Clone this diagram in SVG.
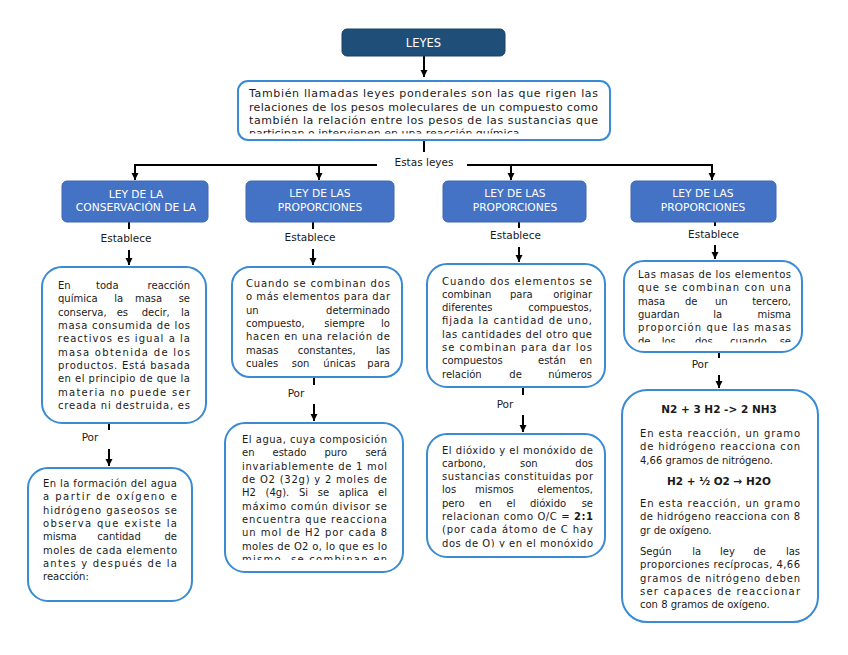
<svg xmlns="http://www.w3.org/2000/svg" width="848" height="655" viewBox="0 0 848 655">
<style>
.t{font-family:"DejaVu Sans",Verdana,sans-serif;font-size:10px;fill:#1a1a1a}
.d{font-size:11px}
.e{text-anchor:end}
.b{font-weight:bold}
.m{text-anchor:middle}
.w{font-family:"DejaVu Sans",Verdana,sans-serif;font-size:10.7px;fill:#fff;text-anchor:middle}
.lbl{font-family:"DejaVu Sans",Verdana,sans-serif;font-size:10.5px;fill:#1a1a1a;text-anchor:middle}
.box{fill:#fff;stroke:#3a8ad4;stroke-width:2}
.blue{fill:#4472c4;stroke:#3d66b0;stroke-width:1}
.c{stroke:#000;stroke-width:2;fill:none}
</style>
<defs>
<marker id="ah" markerUnits="userSpaceOnUse" markerWidth="8" markerHeight="8" refX="7" refY="4" orient="auto"><path d="M0,0.5 L7,4 L0,7.5 z" fill="#000"/></marker>
<clipPath id="cDesc"><rect x="240" y="82" width="368" height="51.5"/></clipPath>
<clipPath id="cC"><rect x="233" y="268" width="168" height="101"/></clipPath>
<clipPath id="cD"><rect x="226" y="424" width="176" height="136"/></clipPath>
<clipPath id="cF"><rect x="428" y="435" width="176" height="112.5"/></clipPath>
<clipPath id="cG"><rect x="625" y="262" width="176" height="80.5"/></clipPath>
</defs>

<g id="connectors">
<line class="c" x1="424" y1="56" x2="424" y2="77" marker-end="url(#ah)"/>
<line class="c" x1="424" y1="140" x2="424" y2="152"/>
<path class="c" d="M377,165 H135 V180"/>
<line class="c" x1="319" y1="165" x2="319" y2="180"/>
<path class="c" d="M467,165 H712 V180"/>
<line class="c" x1="511" y1="165" x2="511" y2="180"/>
<line class="c" x1="135" y1="170" x2="135" y2="180" marker-end="url(#ah)"/>
<line class="c" x1="319" y1="170" x2="319" y2="180" marker-end="url(#ah)"/>
<line class="c" x1="511" y1="170" x2="511" y2="180" marker-end="url(#ah)"/>
<line class="c" x1="712" y1="170" x2="712" y2="180" marker-end="url(#ah)"/>
<text class="lbl" x="424" y="166">Estas leyes</text>

<line class="c" x1="129" y1="222" x2="129" y2="229"/>
<text class="lbl" x="126" y="242">Establece</text>
<line class="c" x1="129" y1="250" x2="129" y2="265" marker-end="url(#ah)"/>
<line class="c" x1="313" y1="222" x2="313" y2="229"/>
<text class="lbl" x="310" y="241">Establece</text>
<line class="c" x1="313" y1="249" x2="313" y2="265" marker-end="url(#ah)"/>
<line class="c" x1="519" y1="222" x2="519" y2="228"/>
<text class="lbl" x="515.5" y="239">Establece</text>
<line class="c" x1="519" y1="247" x2="519" y2="262" marker-end="url(#ah)"/>
<line class="c" x1="715" y1="222" x2="715" y2="226"/>
<text class="lbl" x="713.5" y="238">Establece</text>
<line class="c" x1="715" y1="245" x2="715" y2="259" marker-end="url(#ah)"/>

<line class="c" x1="109" y1="423" x2="109" y2="430"/>
<text class="lbl" x="90" y="441">Por</text>
<line class="c" x1="109" y1="449" x2="109" y2="466" marker-end="url(#ah)"/>
<line class="c" x1="314" y1="377" x2="314" y2="385"/>
<text class="lbl" x="296" y="397">Por</text>
<line class="c" x1="314" y1="404" x2="314" y2="421" marker-end="url(#ah)"/>
<line class="c" x1="523" y1="387" x2="523" y2="395"/>
<text class="lbl" x="505" y="408">Por</text>
<line class="c" x1="523" y1="415" x2="523" y2="432" marker-end="url(#ah)"/>
<line class="c" x1="719" y1="352" x2="719" y2="358"/>
<text class="lbl" x="700" y="368">Por</text>
<line class="c" x1="719" y1="375" x2="719" y2="388" marker-end="url(#ah)"/>
</g>

<g id="leyes">
<rect x="342" y="29" width="163" height="27" rx="5" fill="#1f4e79" stroke="#1a4268"/>
<text class="w" x="423.5" y="47" style="font-size:11.5px">LEYES</text>
</g>

<g id="descripcion">
<rect class="box" x="238" y="81" width="372" height="59" rx="10"/>
<g clip-path="url(#cDesc)">
<text class="t d" x="249" y="97.3" textLength="349" lengthAdjust="spacing">También llamadas leyes ponderales son las que rigen las</text>
<text class="t d" x="249" y="110.6" textLength="349" lengthAdjust="spacing">relaciones de los pesos moleculares de un compuesto como</text>
<text class="t d" x="249" y="124" textLength="349" lengthAdjust="spacing">también la relación entre los pesos de las sustancias que</text>
<text class="t d" x="249" y="137.3">participan o intervienen en una reacción química.</text>
</g>
</g>

<g id="ley1">
<rect class="blue" x="62" y="181" width="146" height="41" rx="5"/>
<text class="w" x="136" y="198">LEY DE LA</text>
<text class="w" x="136" y="211">CONSERVACIÓN DE LA</text>
</g>
<g id="ley2">
<rect class="blue" x="246" y="181" width="148" height="41" rx="5"/>
<text class="w" x="320" y="197">LEY DE LAS</text>
<text class="w" x="320" y="210.5">PROPORCIONES</text>
</g>
<g id="ley3">
<rect class="blue" x="443" y="181" width="143" height="41" rx="5"/>
<text class="w" x="515" y="197">LEY DE LAS</text>
<text class="w" x="515" y="210.5">PROPORCIONES</text>
</g>
<g id="ley4">
<rect class="blue" x="631" y="181" width="145" height="41" rx="5"/>
<text class="w" x="703" y="197">LEY DE LAS</text>
<text class="w" x="703" y="210.5">PROPORCIONES</text>
</g>

<g id="conservacion">
<rect class="box" x="42" y="267" width="164" height="156" rx="20"/>
<text class="t" x="58" y="289">En</text><text class="t" x="96" y="289">toda</text><text class="t e" x="190" y="289">reacción</text>
<text class="t" x="58" y="302.3">química</text><text class="t" x="114.3" y="302.3">la</text><text class="t" x="135" y="302.3">masa</text><text class="t e" x="190" y="302.3">se</text>
<text class="t" x="58" y="315.6">conserva,</text><text class="t" x="116.7" y="315.6">es</text><text class="t" x="141.7" y="315.6">decir,</text><text class="t e" x="190" y="315.6">la</text>
<text class="t" x="58" y="329" textLength="132" lengthAdjust="spacing">masa consumida de los</text>
<text class="t" x="58" y="342.3" textLength="132" lengthAdjust="spacing">reactivos es igual a la</text>
<text class="t" x="58" y="355.6" textLength="132" lengthAdjust="spacing">masa obtenida de los</text>
<text class="t" x="58" y="369" textLength="132" lengthAdjust="spacing">productos. Está basada</text>
<text class="t" x="58" y="382.3" textLength="132" lengthAdjust="spacing">en el principio de que la</text>
<text class="t" x="58" y="395.6" textLength="132" lengthAdjust="spacing">materia no puede ser</text>
<text class="t" x="58" y="409" textLength="132" lengthAdjust="spacing">creada ni destruida, es</text>
</g>

<g id="agua1">
<rect class="box" x="28" y="468" width="164" height="133" rx="20"/>
<text class="t" x="43" y="487" textLength="134" lengthAdjust="spacing">En la formación del agua</text>
<text class="t" x="43" y="500.3" textLength="134" lengthAdjust="spacing">a partir de oxígeno e</text>
<text class="t" x="43" y="513.6" textLength="134" lengthAdjust="spacing">hidrógeno gaseosos se</text>
<text class="t" x="43" y="527" textLength="134" lengthAdjust="spacing">observa que existe la</text>
<text class="t" x="43" y="540.3">misma</text><text class="t" x="97.3" y="540.3">cantidad</text><text class="t e" x="177" y="540.3">de</text>
<text class="t" x="43" y="553.6" textLength="134" lengthAdjust="spacing">moles de cada elemento</text>
<text class="t" x="43" y="567" textLength="134" lengthAdjust="spacing">antes y después de la</text>
<text class="t" x="43" y="580.3">reacción:</text>
</g>

<g id="definidas">
<rect class="box" x="232" y="267" width="170" height="110" rx="18"/>
<g clip-path="url(#cC)">
<text class="t" x="246" y="287" textLength="144" lengthAdjust="spacing">Cuando se combinan dos</text>
<text class="t" x="246" y="300.3" textLength="144" lengthAdjust="spacing">o más elementos para dar</text>
<text class="t" x="246" y="313.6">un</text><text class="t e" x="390" y="313.6">determinado</text>
<text class="t" x="246" y="327">compuesto,</text><text class="t" x="324.3" y="327">siempre</text><text class="t e" x="390" y="327">lo</text>
<text class="t" x="246" y="340.3" textLength="144" lengthAdjust="spacing">hacen en una relación de</text>
<text class="t" x="246" y="353.6">masas</text><text class="t" x="297.7" y="353.6">constantes,</text><text class="t e" x="390" y="353.6">las</text>
<text class="t" x="246" y="367">cuales</text><text class="t" x="291.7" y="367">son</text><text class="t" x="323.3" y="367">únicas</text><text class="t e" x="390" y="367">para</text>
</g>
</g>

<g id="agua2">
<rect class="box" x="225" y="423" width="178" height="149" rx="20"/>
<g clip-path="url(#cD)">
<text class="t" x="242" y="443" textLength="145" lengthAdjust="spacing">El agua, cuya composición</text>
<text class="t" x="242" y="456.3">en</text><text class="t" x="272.5" y="456.3">estado</text><text class="t" x="324.4" y="456.3">puro</text><text class="t e" x="387" y="456.3">será</text>
<text class="t" x="242" y="469.6" textLength="145" lengthAdjust="spacing">invariablemente de 1 mol</text>
<text class="t" x="242" y="483" textLength="145" lengthAdjust="spacing">de O2 (32g) y 2 moles de</text>
<text class="t" x="242" y="496.3">H2</text><text class="t" x="265.6" y="496.3">(4g).</text><text class="t" x="299" y="496.3">Si</text><text class="t" x="317.8" y="496.3">se</text><text class="t" x="338.8" y="496.3">aplica</text><text class="t e" x="387" y="496.3">el</text>
<text class="t" x="242" y="509.6" textLength="145" lengthAdjust="spacing">máximo común divisor se</text>
<text class="t" x="242" y="523" textLength="145" lengthAdjust="spacing">encuentra que reacciona</text>
<text class="t" x="242" y="536.3" textLength="145" lengthAdjust="spacing">un mol de H2 por cada 8</text>
<text class="t" x="242" y="549.6" textLength="145" lengthAdjust="spacing">moles de O2 o, lo que es lo</text>
<text class="t" x="242" y="563" textLength="145" lengthAdjust="spacing">mismo, se combinan en</text>
</g>
</g>

<g id="multiples">
<rect class="box" x="427" y="264" width="178" height="123" rx="20"/>
<text class="t" x="442" y="284.5" textLength="150" lengthAdjust="spacing">Cuando dos elementos se</text>
<text class="t" x="442" y="297.8">combinan</text><text class="t" x="510" y="297.8">para</text><text class="t e" x="592" y="297.8">originar</text>
<text class="t" x="442" y="311.1">diferentes</text><text class="t e" x="592" y="311.1">compuestos,</text>
<text class="t" x="442" y="324.4" textLength="150" lengthAdjust="spacing">fijada la cantidad de uno,</text>
<text class="t" x="442" y="337.7" textLength="150" lengthAdjust="spacing">las cantidades del otro que</text>
<text class="t" x="442" y="351" textLength="150" lengthAdjust="spacing">se combinan para dar los</text>
<text class="t" x="442" y="364.3">compuestos</text><text class="t" x="538" y="364.3">están</text><text class="t e" x="592" y="364.3">en</text>
<text class="t" x="442" y="377.6">relación</text><text class="t" x="509.3" y="377.6">de</text><text class="t e" x="592" y="377.6">números</text>
</g>

<g id="dioxido">
<rect class="box" x="427" y="434" width="178" height="123" rx="20"/>
<g clip-path="url(#cF)">
<text class="t" x="442" y="453.5" textLength="151" lengthAdjust="spacing">El dióxido y el monóxido de</text>
<text class="t" x="442" y="466.8">carbono,</text><text class="t" x="520" y="466.8">son</text><text class="t e" x="593" y="466.8">dos</text>
<text class="t" x="442" y="480.1" textLength="151" lengthAdjust="spacing">sustancias constituidas por</text>
<text class="t" x="442" y="493.4">los</text><text class="t" x="475" y="493.4">mismos</text><text class="t e" x="593" y="493.4">elementos,</text>
<text class="t" x="442" y="506.7">pero</text><text class="t" x="479" y="506.7">en</text><text class="t" x="506.5" y="506.7">el</text><text class="t" x="530" y="506.7">dióxido</text><text class="t e" x="593" y="506.7">se</text>
<text class="t" x="442" y="520" textLength="151" lengthAdjust="spacing">relacionan como O/C = <tspan class="b">2:1</tspan></text>
<text class="t" x="442" y="533.3" textLength="151" lengthAdjust="spacing">(por cada átomo de C hay</text>
<text class="t" x="442" y="546.8" textLength="151" lengthAdjust="spacing">dos de O) y en el monóxido</text>
</g>
</g>

<g id="reciprocas">
<rect class="box" x="624" y="261" width="178" height="91" rx="20"/>
<g clip-path="url(#cG)">
<text class="t" x="638" y="278" textLength="153" lengthAdjust="spacing">Las masas de los elementos</text>
<text class="t" x="638" y="291.3" textLength="153" lengthAdjust="spacing">que se combinan con una</text>
<text class="t" x="638" y="304.6">masa</text><text class="t" x="685" y="304.6">de</text><text class="t" x="715" y="304.6">un</text><text class="t e" x="791" y="304.6">tercero,</text>
<text class="t" x="638" y="318">guardan</text><text class="t" x="713.3" y="318">la</text><text class="t e" x="791" y="318">misma</text>
<text class="t" x="638" y="331.3" textLength="153" lengthAdjust="spacing">proporción que las masas</text>
<text class="t" x="638" y="344.6">de</text><text class="t" x="661.7" y="344.6">los</text><text class="t" x="695" y="344.6">dos</text><text class="t" x="730" y="344.6">cuando</text><text class="t e" x="791" y="344.6">se</text>
</g>
</g>

<g id="ejemplo">
<rect class="box" x="622" y="390" width="196" height="232" rx="25"/>
<text class="t b m" x="719" y="413" style="font-size:10.5px">N2 + 3 H2 -&gt; 2 NH3</text>
<text class="t" x="640" y="437" textLength="160" lengthAdjust="spacing">En esta reacción, un gramo</text>
<text class="t" x="640" y="450.3" textLength="160" lengthAdjust="spacing">de hidrógeno reacciona con</text>
<text class="t" x="640" y="463.6">4,66 gramos de nitrógeno.</text>
<text class="t b m" x="719" y="485" style="font-size:10.5px">H2 + ½ O2 → H2O</text>
<text class="t" x="640" y="507" textLength="160" lengthAdjust="spacing">En esta reacción, un gramo</text>
<text class="t" x="640" y="520.3" textLength="160" lengthAdjust="spacing">de hidrógeno reacciona con 8</text>
<text class="t" x="640" y="533.6">gr de oxígeno.</text>
<text class="t" x="640" y="555">Según</text><text class="t" x="692.3" y="555">la</text><text class="t" x="720" y="555">ley</text><text class="t" x="753.3" y="555">de</text><text class="t e" x="800" y="555">las</text>
<text class="t" x="640" y="568.3" textLength="160" lengthAdjust="spacing">proporciones recíprocas, 4,66</text>
<text class="t" x="640" y="581.6" textLength="160" lengthAdjust="spacing">gramos de nitrógeno deben</text>
<text class="t" x="640" y="595" textLength="160" lengthAdjust="spacing">ser capaces de reaccionar</text>
<text class="t" x="640" y="608.3">con 8 gramos de oxígeno.</text>
</g>
</svg>
